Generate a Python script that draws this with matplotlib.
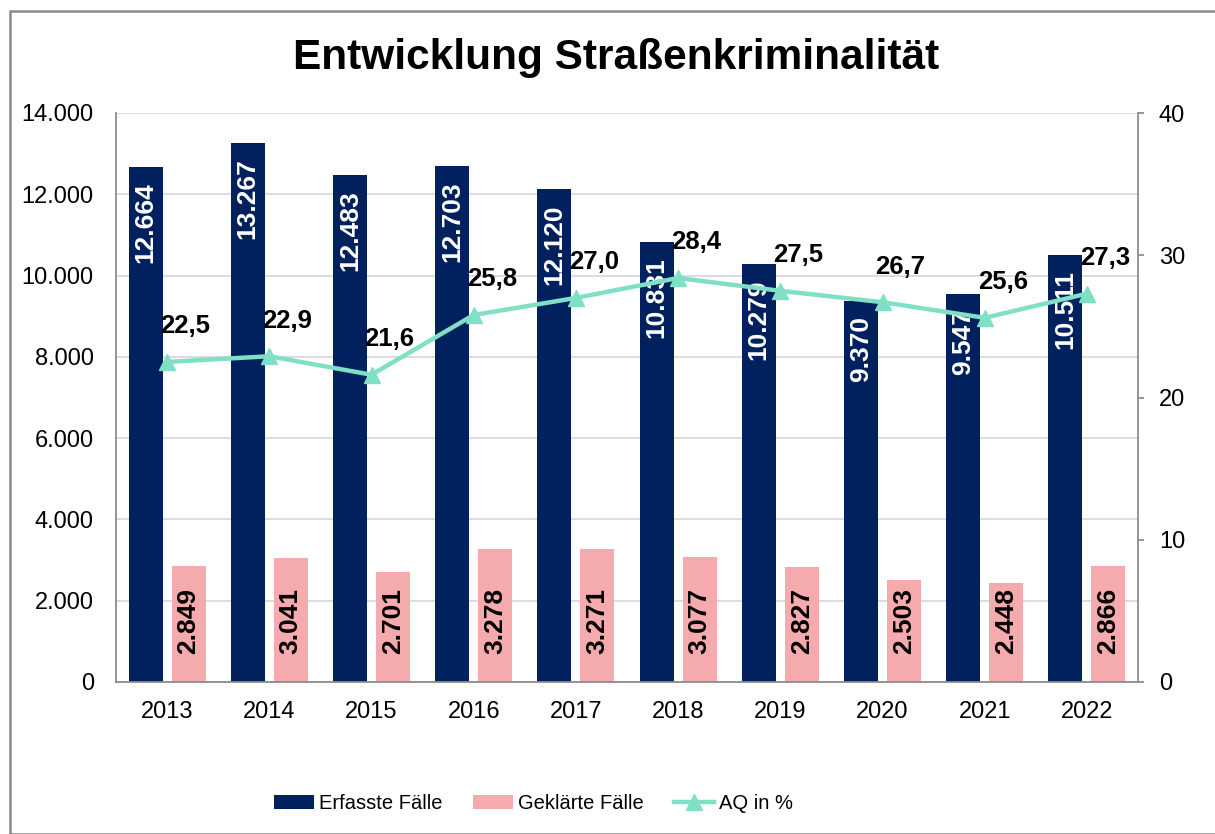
import matplotlib
matplotlib.use("Agg")
import matplotlib.pyplot as plt
import numpy as np
from matplotlib.patches import Rectangle

years = ["2013", "2014", "2015", "2016", "2017", "2018", "2019", "2020", "2021", "2022"]
erfasst = [12664, 13267, 12483, 12703, 12120, 10831, 10279, 9370, 9547, 10511]
geklaert = [2849, 3041, 2701, 3278, 3271, 3077, 2827, 2503, 2448, 2866]
aq = [22.5, 22.9, 21.6, 25.8, 27.0, 28.4, 27.5, 26.7, 25.6, 27.3]

NAVY = "#00215E"
PINK = "#F5ABAE"
AQUA = "#7FE0C5"
GRID = "#D9D9D9"
AXC = "#8C8C8C"

plt.rcParams['font.family'] = ['Liberation Sans', 'DejaVu Sans']

def de(n):
    return f"{n:,}".replace(",", ".")

fig = plt.figure(figsize=(12.15, 8.34), dpi=100)
fig.patches.append(Rectangle((10/1215, 0), 1.0, 1 - 11/834, transform=fig.transFigure,
                             fill=False, edgecolor="#8A8A8A", linewidth=1.8, zorder=0))

ax = fig.add_axes([116/1215, 1 - 682/834, (1138-116)/1215, (682-113)/834])
x = np.arange(len(years))
w = 0.333
off = 0.21
b1 = ax.bar(x - off, erfasst, w, color=NAVY, zorder=2, label="Erfasste Fälle")
b2 = ax.bar(x + off, geklaert, w, color=PINK, zorder=2, label="Geklärte Fälle")
ax.set_xlim(-0.5, len(years) - 0.5)
ax.set_ylim(0, 14000)
ax.set_yticks(np.arange(0, 14001, 2000))
ax.set_yticklabels([de(v) for v in range(0, 14001, 2000)])
ax.set_xticks(x)
ax.set_xticklabels(years)
ax.tick_params(axis='y', length=0, pad=16, labelsize=17)
ax.tick_params(axis='x', length=0, pad=14, labelsize=17)
ax.yaxis.grid(True, color=GRID, linewidth=1.3, zorder=0)
ax.set_axisbelow(True)
for s in ['top', 'right']:
    ax.spines[s].set_visible(False)
for s in ['left', 'bottom']:
    ax.spines[s].set_color(AXC)
    ax.spines[s].set_linewidth(1.3)

for xi, v in zip(x, erfasst):
    ax.annotate(de(v), (xi - off, v), xytext=(0, -11), textcoords='offset points',
                rotation=90, ha='center', va='top', color='white', fontweight='bold',
                fontsize=19, zorder=3)
for xi, v in zip(x, geklaert):
    ax.annotate(de(v), (xi + off, 0), xytext=(0, 20), textcoords='offset points',
                rotation=90, ha='center', va='bottom', color='black', fontweight='bold',
                fontsize=19, zorder=3)

ax2 = ax.twinx()
ax2.set_ylim(0, 40)
ax2.set_yticks(np.arange(0, 41, 10))
ax2.tick_params(axis='y', length=4, width=1.3, color=AXC, pad=11, labelsize=17)
for s in ['top', 'left', 'bottom']:
    ax2.spines[s].set_visible(False)
ax2.spines['right'].set_color(AXC)
ax2.spines['right'].set_linewidth(1.3)
l, = ax2.plot(x, aq, color=AQUA, linewidth=3.2, marker='^', markersize=12,
              zorder=5, label="AQ in %")
for xi, v in zip(x, aq):
    ax2.annotate(f"{v:.1f}".replace(".", ","), (xi, v), xytext=(-5, 17),
                 textcoords='offset points', ha='left', va='bottom',
                 fontweight='bold', fontsize=18.5, color='black', zorder=6)

fig.text(0.507, 0.931, "Entwicklung Straßenkriminalität", ha='center', va='center',
         fontsize=30.5, fontweight='bold')

fig.legend([b1, b2, l], ["Erfasste Fälle", "Geklärte Fälle", "AQ in %"],
           loc='center', bbox_to_anchor=(0.439, 0.037), ncol=3, frameon=False,
           fontsize=14.5, handlelength=2.0, handletextpad=0.25, columnspacing=1.5)

fig.savefig("out.png", dpi=100)
